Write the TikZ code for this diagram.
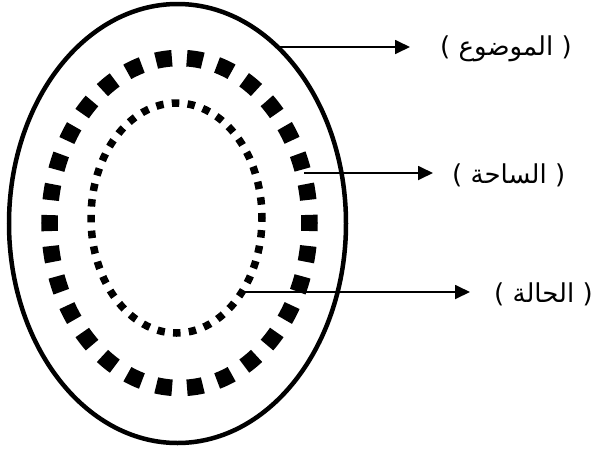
\documentclass[tikz,border=0pt]{standalone}
\usepackage{fontspec}
\newfontfamily\arabicfont[Script=Arabic]{DejaVu Sans}
\TeXXeTstate=1
\usetikzlibrary{arrows.meta}
\tikzset{
  outerring/.style={line width=4.5pt},
  midring/.style={line width=16.5pt, dash pattern=on 16pt off 15pt, dash phase=8pt},
  innerring/.style={line width=7.5pt, dash pattern=on 7.5pt off 8.3pt, dash phase=3.7pt},
  arr/.style={line width=1.8pt, -{Triangle[length=15pt,width=14pt]}},
  lab/.style={font=\fontsize{26}{29}\selectfont\arabicfont, inner sep=0pt, anchor=west}
}
\begin{document}
\begin{tikzpicture}[x=1pt,y=-1pt]
\useasboundingbox (0,0) rectangle (595,448);
% rings
\draw[outerring] (177.5,223.5) ellipse [x radius=168.5, y radius=219.5];
\draw[midring] (179.5,223) ellipse [x radius=130, y radius=165];
\draw[innerring] (176.5,218) ellipse [x radius=85.5, y radius=115];
% arrow start points and tips
\coordinate (s1) at (278,47);
\coordinate (t1) at (410,47);
\coordinate (s2) at (304,173);
\coordinate (t2) at (433,173);
\coordinate (s3) at (243,292);
\coordinate (t3) at (470,292);
% labels
\node[lab] (l1) at (440,49) {\beginR( الموضوع )\endR};
\node[lab] (l2) at (452,175) {\beginR( الساحة )\endR};
\node[lab] (l3) at (494,294) {\beginR( الحالة )\endR};
% arrows
\draw[arr] (s1) -- (t1);
\draw[arr] (s2) -- (t2);
\draw[arr] (s3) -- (t3);
\end{tikzpicture}
\end{document}
